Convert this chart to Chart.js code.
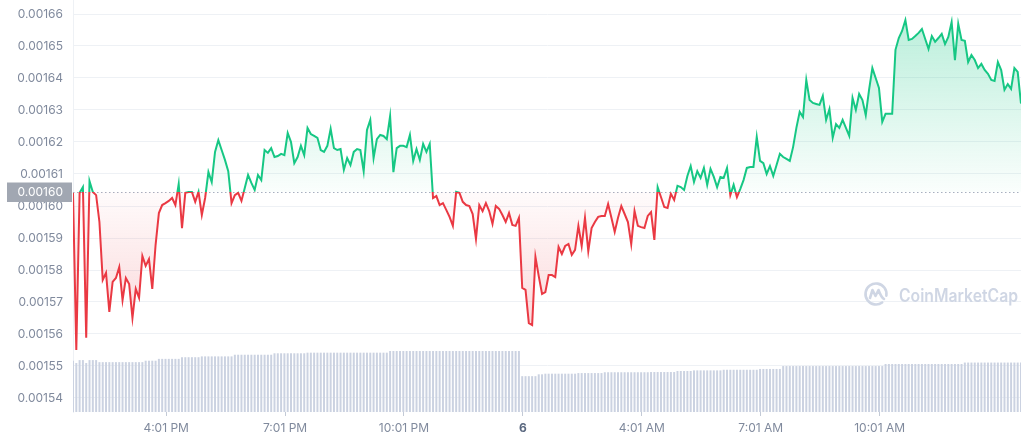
<!DOCTYPE html>
<html>
<head>
<meta charset="utf-8">
<script src="https://cdn.jsdelivr.net/npm/chart.js@4.4.1/dist/chart.umd.min.js"></script>
<style>
html, body { margin: 0; padding: 0; background: #fff; }
canvas { display: block; }
</style>
</head>
<body>
<canvas id="price_chart" width="1024" height="441"></canvas>
<script>
// 24h of 5 minute prices, first point at 1:40 PM
var prices = [
  0.0016041, 0.0015550, 0.0016041, 0.0016059, 0.0015588, 0.0016078, 0.0016044, 0.0016034, 0.0015950, 0.0015769,
  0.0015791, 0.0015669, 0.0015763, 0.0015775, 0.0015809, 0.0015706, 0.0015775, 0.0015756, 0.0015650, 0.0015741,
  0.0015713, 0.0015844, 0.0015813, 0.0015834, 0.0015741, 0.0015878, 0.0015978, 0.0016003, 0.0016009, 0.0016016,
  0.0016025, 0.0016003, 0.0016069, 0.0015931, 0.0016041, 0.0016044, 0.0016044, 0.0016013, 0.0016044, 0.0015972,
  0.0016025, 0.0016106, 0.0016075, 0.0016169, 0.0016206, 0.0016175, 0.0016144, 0.0016109, 0.0016009, 0.0016034,
  0.0016041, 0.0016016, 0.0016056, 0.0016097, 0.0016072, 0.0016050, 0.0016097, 0.0016081, 0.0016175, 0.0016166,
  0.0016181, 0.0016153, 0.0016156, 0.0016163, 0.0016159, 0.0016228, 0.0016200, 0.0016134, 0.0016153, 0.0016188,
  0.0016159, 0.0016244, 0.0016225, 0.0016219, 0.0016213, 0.0016175, 0.0016169, 0.0016188, 0.0016241, 0.0016181,
  0.0016175, 0.0016178, 0.0016113, 0.0016150, 0.0016128, 0.0016169, 0.0016178, 0.0016175, 0.0016109, 0.0016238,
  0.0016269, 0.0016150, 0.0016209, 0.0016222, 0.0016219, 0.0016209, 0.0016281, 0.0016106, 0.0016181, 0.0016188,
  0.0016188, 0.0016184, 0.0016222, 0.0016141, 0.0016178, 0.0016144, 0.0016194, 0.0016169, 0.0016194, 0.0016025,
  0.0016031, 0.0016003, 0.0016009, 0.0015988, 0.0015966, 0.0015938, 0.0016044, 0.0016041, 0.0016013, 0.0016003,
  0.0016000, 0.0015975, 0.0015897, 0.0016003, 0.0015984, 0.0016009, 0.0015984, 0.0015944, 0.0016000, 0.0015991,
  0.0015972, 0.0015950, 0.0015978, 0.0015941, 0.0015938, 0.0015963, 0.0015744, 0.0015738, 0.0015634, 0.0015628,
  0.0015841, 0.0015781, 0.0015725, 0.0015731, 0.0015784, 0.0015784, 0.0015778, 0.0015872, 0.0015850, 0.0015875,
  0.0015881, 0.0015847, 0.0015863, 0.0015938, 0.0015875, 0.0015963, 0.0015859, 0.0015931, 0.0015950, 0.0015966,
  0.0015969, 0.0015969, 0.0016006, 0.0015963, 0.0015919, 0.0015963, 0.0016000, 0.0015975, 0.0015950, 0.0015881,
  0.0015984, 0.0015938, 0.0015934, 0.0015931, 0.0015969, 0.0015981, 0.0015894, 0.0016059, 0.0016028, 0.0015997,
  0.0015994, 0.0016038, 0.0016019, 0.0016063, 0.0016059, 0.0016050, 0.0016094, 0.0016125, 0.0016075, 0.0016109,
  0.0016088, 0.0016119, 0.0016066, 0.0016116, 0.0016091, 0.0016059, 0.0016091, 0.0016088, 0.0016119, 0.0016034,
  0.0016066, 0.0016028, 0.0016053, 0.0016081, 0.0016119, 0.0016122, 0.0016122, 0.0016216, 0.0016141, 0.0016134,
  0.0016100, 0.0016125, 0.0016094, 0.0016128, 0.0016163, 0.0016153, 0.0016147, 0.0016141, 0.0016184, 0.0016244,
  0.0016294, 0.0016278, 0.0016394, 0.0016331, 0.0016322, 0.0016319, 0.0016316, 0.0016344, 0.0016269, 0.0016303,
  0.0016213, 0.0016256, 0.0016244, 0.0016269, 0.0016244, 0.0016219, 0.0016338, 0.0016300, 0.0016350, 0.0016331,
  0.0016284, 0.0016363, 0.0016431, 0.0016400, 0.0016369, 0.0016263, 0.0016288, 0.0016288, 0.0016288, 0.0016488,
  0.0016525, 0.0016547, 0.0016581, 0.0016519, 0.0016522, 0.0016531, 0.0016541, 0.0016553, 0.0016522, 0.0016491,
  0.0016531, 0.0016513, 0.0016525, 0.0016538, 0.0016506, 0.0016528, 0.0016575, 0.0016456, 0.0016569, 0.0016519,
  0.0016516, 0.0016450, 0.0016472, 0.0016456, 0.0016431, 0.0016444, 0.0016425, 0.0016413, 0.0016394, 0.0016391,
  0.0016450, 0.0016425, 0.0016363, 0.0016381, 0.0016366, 0.0016431, 0.0016419, 0.0016320
];

// rolling volume bars (same 5 minute steps)
var volumes = [
  12.45, 11.9, 12.6, 12.6, 11.9, 12.6, 12.6, 12.6,
  12.1, 12.1, 12.1, 12.1, 12.1, 12.1, 12.1, 12.1, 12.1, 12.1, 12.1, 12.1, 12.1, 12.1,
  12.45, 12.45, 12.45, 12.45,
  12.9, 12.9, 12.9, 12.9, 12.9, 12.9, 12.9,
  13.3, 13.3, 13.3, 13.3, 13.3, 13.3,
  13.5, 13.5, 13.5, 13.5, 13.5, 13.5, 13.5, 13.5, 13.5, 13.5,
  13.9, 13.9, 13.9, 13.9, 13.9, 13.9, 13.9, 13.9, 13.9, 13.9, 13.9, 13.9,
  14.25, 14.25, 14.25, 14.25, 14.25, 14.25, 14.25, 14.25, 14.25, 14.25,
  14.4, 14.4, 14.4, 14.4, 14.4, 14.4, 14.4, 14.4, 14.4, 14.4, 14.4, 14.4, 14.4,
  14.4, 14.4, 14.4, 14.4, 14.4, 14.4, 14.4, 14.4, 14.4, 14.4, 14.4, 14.4,
  14.8, 14.8, 14.8, 14.8, 14.8, 14.8, 14.8, 14.8, 14.8, 14.8, 14.8, 14.8, 14.8, 14.8, 14.8, 14.8, 14.8, 14.8, 14.8, 14.8,
  14.8, 14.8, 14.8, 14.8, 14.8, 14.8, 14.8, 14.8, 14.8, 14.8, 14.8, 14.8, 14.8, 14.8, 14.8, 14.8, 14.8, 14.8, 14.8, 14.8,
  8.7, 8.7, 8.7, 8.7, 8.7,
  9.15, 9.15,
  9.3, 9.3, 9.3, 9.3, 9.3, 9.3, 9.3, 9.3, 9.3, 9.3,
  9.45, 9.45, 9.45, 9.45, 9.45, 9.45, 9.45, 9.45,
  9.65, 9.65, 9.65, 9.65, 9.65, 9.65, 9.65, 9.65, 9.65, 9.65, 9.65, 9.65, 9.65, 9.65,
  9.7, 9.7, 9.7, 9.7, 9.7, 9.7, 9.7, 9.7,
  9.95, 9.95, 9.95, 9.95, 9.95,
  10.1, 10.1, 10.1, 10.1, 10.1, 10.1, 10.1, 10.1, 10.1,
  10.25, 10.25, 10.25, 10.25, 10.25, 10.25, 10.25, 10.25, 10.25, 10.25, 10.25,
  10.45, 10.45, 10.45, 10.45, 10.45, 10.45, 10.45,
  11.15, 11.15, 11.15, 11.15, 11.15, 11.15, 11.15, 11.15, 11.15, 11.15, 11.15, 11.15, 11.15, 11.15, 11.15, 11.15,
  11.15, 11.15, 11.15, 11.15, 11.15, 11.15, 11.15, 11.15, 11.15, 11.15, 11.15, 11.15, 11.15, 11.15, 11.15,
  11.65, 11.65, 11.65, 11.65, 11.65, 11.65, 11.65, 11.65, 11.65, 11.65, 11.65, 11.65,
  11.65, 11.65, 11.65, 11.65, 11.65, 11.65, 11.65, 11.65, 11.65, 11.65, 11.65, 11.65,
  12.0, 12.0, 12.0, 12.0, 12.0, 12.0, 12.0, 12.0, 12.0, 12.0, 12.0, 12.0, 12.0, 12.0, 12.0, 12.0, 12.0, 12.0
];

var basePrice = 0.0016044;   // price at start of the 24h window
var tickMinutes = [141, 321, 501, 681, 861, 1041, 1221];
var tickLabels = ['4:01 PM', '7:01 PM', '10:01 PM', '6', '4:01 AM', '7:01 AM', '10:01 AM'];

var green = '#16c784';
var red = '#ea3943';

// minutes since window start
var minutes = prices.map(function (p, i) { return i * 5; });

function baseRatio(chart) {
  var area = chart.chartArea;
  var y = chart.scales.y.getPixelForValue(basePrice);
  var r = (y - area.top) / (area.bottom - area.top);
  return Math.min(Math.max(r, 0), 1);
}

function lineColor(ctx) {
  var chart = ctx.chart;
  if (!chart.chartArea) return green;
  var area = chart.chartArea, r = baseRatio(chart);
  var g = chart.ctx.createLinearGradient(0, area.top, 0, area.bottom);
  g.addColorStop(0, green);
  g.addColorStop(r, green);
  g.addColorStop(r, red);
  g.addColorStop(1, red);
  return g;
}

function fillColor(ctx) {
  var chart = ctx.chart;
  if (!chart.chartArea) return 'rgba(22,199,132,0.1)';
  var area = chart.chartArea, r = baseRatio(chart);
  var g = chart.ctx.createLinearGradient(0, area.top, 0, area.bottom);
  g.addColorStop(0, 'rgba(22,199,132,0.32)');
  g.addColorStop(r, 'rgba(22,199,132,0.02)');
  g.addColorStop(r, 'rgba(234,57,67,0.02)');
  g.addColorStop(1, 'rgba(234,57,67,0.30)');
  return g;
}

// dotted open-price line, its grey label and the watermark
var extras = {
  id: 'extras',
  beforeDatasetsDraw: function (chart) {
    var c = chart.ctx, area = chart.chartArea;
    var y = Math.round(chart.scales.y.getPixelForValue(basePrice)) + 0.5;
    c.save();
    c.strokeStyle = '#a7afbf';
    c.lineWidth = 1;
    c.setLineDash([1.5, 2.5]);
    c.beginPath();
    c.moveTo(area.left, y);
    c.lineTo(area.right, y);
    c.stroke();
    c.setLineDash([]);

    // watermark
    var wx = 876, wy = 294;
    c.strokeStyle = '#cfd6e4';
    c.lineWidth = 2.6;
    c.lineCap = 'round';
    c.lineJoin = 'round';
    c.beginPath();
    c.arc(wx, wy, 10.5, Math.PI * 0.3, Math.PI * 2.05);
    c.stroke();
    c.beginPath();
    c.moveTo(wx - 6, wy + 4);
    c.lineTo(wx - 3.5, wy - 4);
    c.lineTo(wx - 0.5, wy + 2);
    c.lineTo(wx + 2.5, wy - 4);
    c.quadraticCurveTo(wx + 5, wy + 3, wx + 8, wy + 5);
    c.stroke();
    c.fillStyle = '#cfd6e4';
    c.font = '600 18px Inter';
    c.textAlign = 'left';
    c.textBaseline = 'alphabetic';
    var txt = 'CoinMarketCap';
    var w = c.measureText(txt).width;
    c.save();
    c.translate(899, 302);
    c.scale(119 / w, 1);
    c.fillText(txt, 0, 0);
    c.restore();
    c.restore();
  },
  afterDraw: function (chart) {
    var c = chart.ctx;
    var y = chart.scales.y.getPixelForValue(basePrice);
    c.save();
    c.fillStyle = '#a1a7b2';
    c.fillRect(7, Math.round(y) - 9.5, 65, 19.5);
    c.fillStyle = '#ffffff';
    c.font = '12px Inter';
    c.textAlign = 'right';
    c.textBaseline = 'middle';
    c.fillText(basePrice.toFixed(5), 63, y + 0.5);
    c.restore();
  }
};

Chart.defaults.font.family = 'Inter';
Chart.defaults.font.size = 12;
Chart.defaults.color = '#808a9d';

var ctx = document.getElementById('price_chart').getContext('2d');
window.priceChart = new Chart(ctx, {
  type: 'line',
  data: {
    labels: minutes,
    datasets: [{
      label: 'Price',
      data: prices,
      yAxisID: 'y',
      borderColor: lineColor,
      backgroundColor: fillColor,
      borderWidth: 2,
      pointRadius: 0,
      tension: 0,
      fill: { value: basePrice },
      order: 0
    }, {
      type: 'bar',
      label: 'Volume',
      data: volumes,
      yAxisID: 'yv',
      backgroundColor: '#cbd2e1',
      barPercentage: 0.6,
      categoryPercentage: 1,
      order: 1
    }]
  },
  options: {
    responsive: false,
    animation: false,
    devicePixelRatio: 1,
    layout: { padding: { left: 0, right: 3, top: 0, bottom: 0 } },
    plugins: {
      legend: { display: false },
      tooltip: { enabled: false }
    },
    scales: {
      x: {
        type: 'linear',
        min: 0,
        max: 1435,
        offset: false,
        border: { display: false },
        grid: { offset: false, drawOnChartArea: false, drawTicks: true, tickLength: 4, color: '#c3cad6' },
        afterBuildTicks: function (scale) {
          scale.ticks = tickMinutes.map(function (m) { return { value: m }; });
        },
        afterFit: function (scale) {
          scale.height = 29;
          scale.paddingLeft = 0;
          scale.paddingRight = 0;
        },
        ticks: {
          padding: 5,
          maxRotation: 0,
          autoSkip: false,
          callback: function (v) { return tickLabels[tickMinutes.indexOf(v)]; },
          color: function (c) { return c.tick && c.tick.label === '6' ? '#58667e' : '#808a9d'; },
          font: function (c) { return c.tick && c.tick.label === '6' ? { weight: 'bold' } : { weight: 'normal' }; }
        }
      },
      y: {
        position: 'left',
        min: 0.001535625,
        max: 0.001664375,
        border: { display: true, color: '#eef1f5' },
        grid: { color: '#eef1f5', drawTicks: false },
        afterFit: function (scale) {
          scale.width = 73;
          scale.paddingTop = 0;
          scale.paddingBottom = 0;
        },
        ticks: {
          stepSize: 0.00001,
          includeBounds: false,
          padding: 10,
          callback: function (v) { return v.toFixed(5); }
        }
      },
      yv: {
        display: false,
        min: 0,
        max: 100
      }
    }
  },
  plugins: [extras]
});
</script>
</body>
</html>
